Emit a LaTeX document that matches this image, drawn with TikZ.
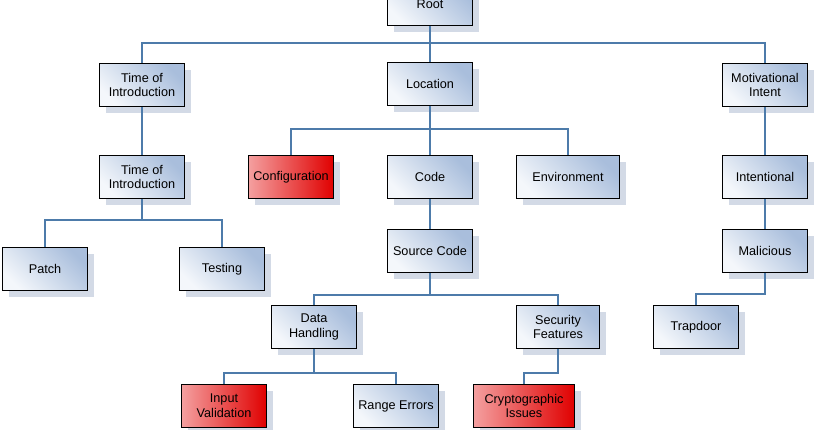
\documentclass[tikz,border=0pt]{standalone}
\usepackage{fontspec}
\setmainfont{Liberation Sans}
\usetikzlibrary{shadows}
\definecolor{boxtop}{HTML}{F4F7FB}
\definecolor{boxbot}{HTML}{A9BEDC}
\definecolor{redtop}{HTML}{F4A0A0}
\definecolor{redbot}{HTML}{E00000}
\definecolor{wire}{HTML}{4D7BAA}
\definecolor{shade}{HTML}{D3DAE6}
\tikzset{
box/.style={draw=black, line width=0.9pt, minimum width=64pt, minimum height=32pt,
  align=center, font=\fontsize{9.5}{11}\selectfont, inner sep=1pt,
  left color=boxtop, right color=boxbot, shading angle=135,
  drop shadow={shadow xshift=5pt, shadow yshift=-5pt, fill=shade, opacity=1}},
bad/.style={box, left color=redtop, right color=redbot},
conn/.style={draw=wire, line width=1.2pt},
}
\begin{document}
\begin{tikzpicture}[x=0.75pt,y=-0.75pt]
\useasboundingbox (0,0) rectangle (817,429);
\node[box] (root) at (430,4) {Root};
\node[box] (toi1) at (142,85) {Time of\\Introduction};
\node[box] (loc) at (430,84) {Location};
\node[box] (mot) at (765,85) {Motivational\\Intent};
\node[box] (toi2) at (142,177) {Time of\\Introduction};
\node[bad] (conf) at (291,177) {Configuration};
\node[box] (code) at (430,177) {Code};
\node[box, minimum width=77pt] (env) at (568,177) {Environment};
\node[box] (intent) at (765,177) {Intentional};
\node[box] (patch) at (45,269) {Patch};
\node[box] (test) at (222,269) {Testing};
\node[box] (src) at (430,251) {Source Code};
\node[box] (mal) at (765,251) {Malicious};
\node[box] (data) at (314,327) {Data\\Handling};
\node[box, minimum width=62pt] (sec) at (558,327) {Security\\Features};
\node[box] (trap) at (696,327) {Trapdoor};
\node[bad] (input) at (224,406) {Input\\Validation};
\node[box] (range) at (396,406) {Range Errors};
\node[bad, minimum width=76pt] (crypto) at (524,406) {Cryptographic\\Issues};
% tree connectors
\foreach \p/\c/\h in {root/toi1/43, root/loc/43, root/mot/43,
  loc/conf/129, loc/code/129, loc/env/129,
  toi2/patch/220, toi2/test/220,
  src/data/295, src/sec/295,
  data/input/373, data/range/373, sec/crypto/373,
  mal/trap/294}
  \draw[conn] (\p.south) -- (\p.south |- 0,\h) -| (\c.north);
\foreach \p/\c in {toi1/toi2, loc/code, code/src, mot/intent, intent/mal}
  \draw[conn] (\p) -- (\c);
\end{tikzpicture}
\end{document}
